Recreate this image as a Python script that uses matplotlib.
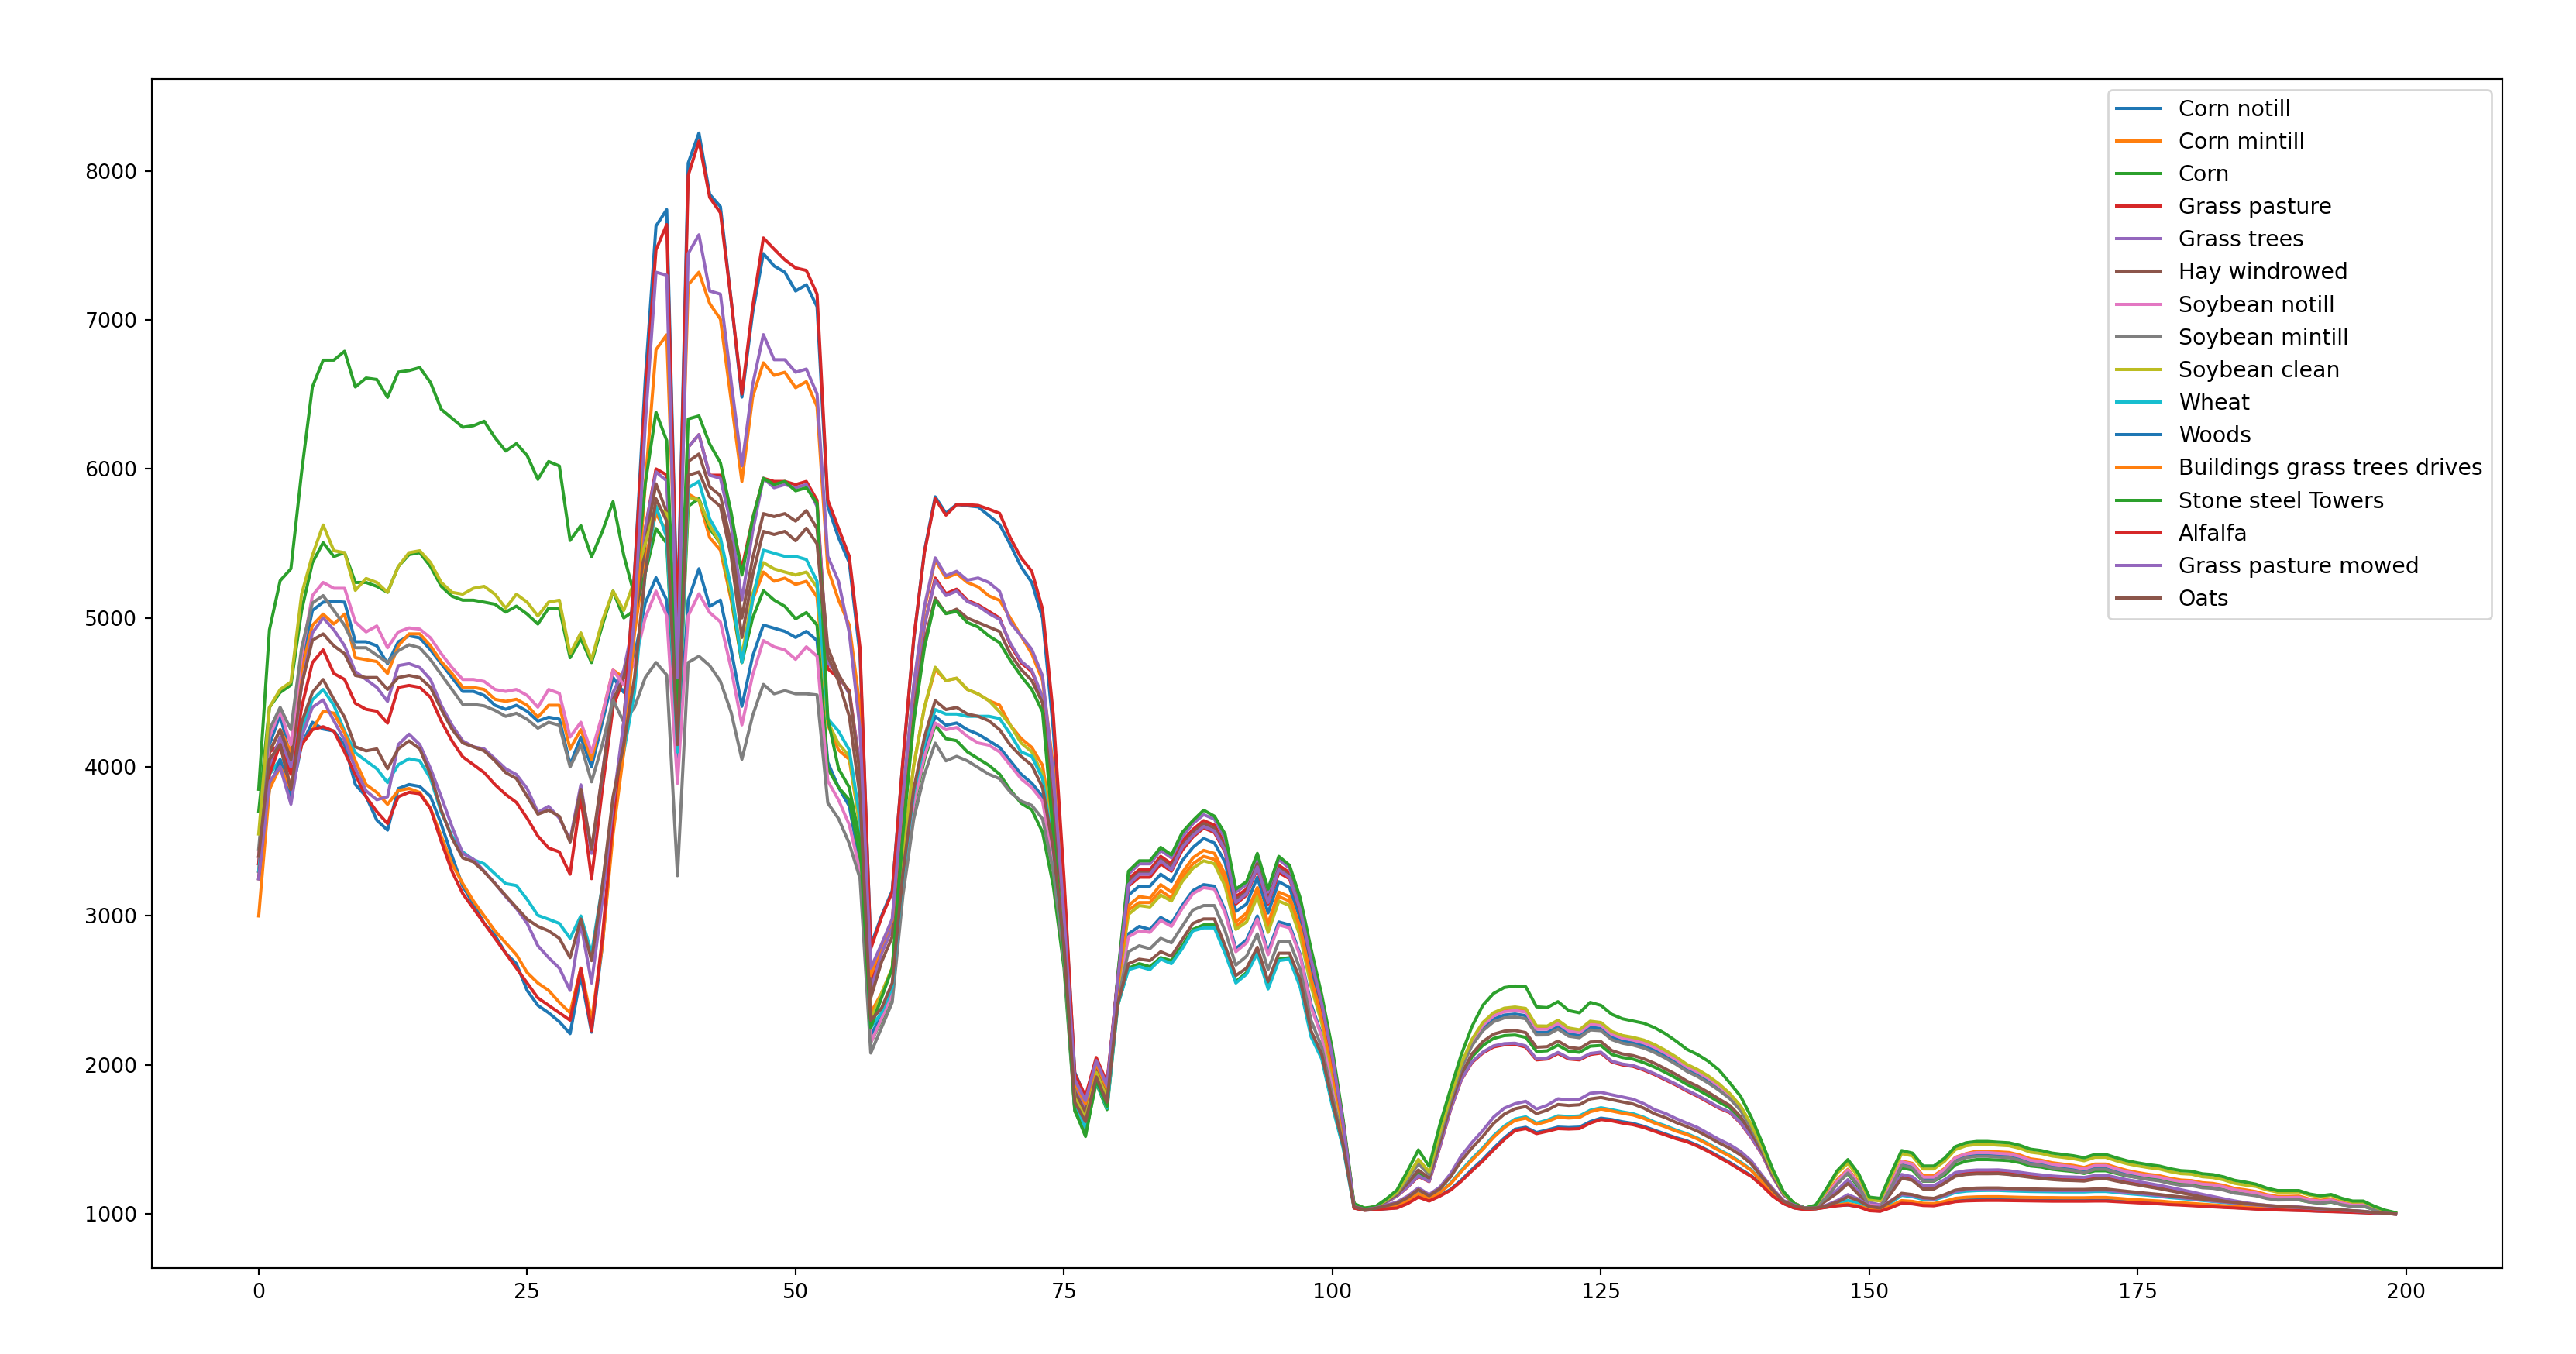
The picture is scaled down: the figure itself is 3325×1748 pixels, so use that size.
import matplotlib
matplotlib.use("Agg")
import matplotlib.pyplot as plt

bands = list(range(200))

labels = ["Corn notill", "Corn mintill", "Corn", "Grass pasture", "Grass trees",
          "Hay windrowed", "Soybean notill", "Soybean mintill", "Soybean clean",
          "Wheat", "Woods", "Buildings grass trees drives", "Stone steel Towers",
          "Alfalfa", "Grass pasture mowed", "Oats"]

corn_notill = [
    3350, 4150, 4350, 4050, 4700, 5050, 5106, 5111, 5106, 4840,
    4840, 4813, 4693, 4840, 4880, 4866, 4786, 4693, 4600, 4507,
    4507, 4480, 4414, 4387, 4414, 4374, 4308, 4334, 4321, 4015,
    4200, 4000, 4300, 4600, 4500, 4750, 5100, 5270, 5120, 4000,
    5120, 5330, 5078, 5120, 4785, 4407, 4743, 4952, 4931, 4910,
    4869, 4910, 4848, 4031, 3863, 3737, 3350, 2200, 2330, 2500,
    3240, 3780, 4120, 4340, 4280, 4295, 4250, 4220, 4176, 4131,
    4041, 3951, 3891, 3801, 3400, 2750, 1740, 1600, 1910, 1740,
    2470, 2880, 2930, 2910, 2990, 2950, 3070, 3170, 3210, 3200,
    3040, 2780, 2840, 3000, 2760, 2960, 2940, 2740, 2410, 2200,
    1860, 1510, 1065, 1037, 1047, 1090, 1141, 1237, 1345, 1271,
    1528, 1773, 1988, 2143, 2246, 2308, 2335, 2342, 2331, 2219,
    2219, 2258, 2209, 2198, 2252, 2246, 2186, 2161, 2149, 2129,
    2099, 2061, 2018, 1971, 1936, 1893, 1843, 1784, 1704, 1584,
    1442, 1276, 1140, 1070, 1040, 1050, 1115, 1210, 1285, 1200,
    1055, 1050, 1185, 1336, 1320, 1232, 1232, 1284, 1362, 1388,
    1397, 1397, 1392, 1388, 1371, 1345, 1336, 1320, 1310, 1301,
    1287, 1310, 1310, 1287, 1267, 1253, 1241, 1232, 1215, 1203,
    1199, 1185, 1180, 1168, 1148, 1140, 1128, 1110, 1100, 1100,
    1102, 1085, 1078, 1086, 1066, 1054, 1057, 1032, 1013, 1002]

corn_mintill = [
    3300, 4100, 4250, 4100, 4650, 4950, 5026, 4959, 5026, 4733,
    4720, 4707, 4627, 4813, 4893, 4893, 4813, 4707, 4627, 4534,
    4534, 4520, 4454, 4440, 4454, 4414, 4334, 4414, 4414, 4121,
    4250, 4050, 4350, 4650, 4600, 4900, 5400, 5700, 5580, 4300,
    5832, 5790, 5539, 5455, 5120, 4701, 5120, 5308, 5246, 5267,
    5225, 5246, 5141, 4282, 4114, 4051, 3600, 2350, 2480, 2650,
    3410, 4010, 4400, 4654, 4580, 4595, 4520, 4490, 4445, 4415,
    4280, 4191, 4131, 4011, 3550, 2850, 1780, 1640, 1950, 1770,
    2520, 3040, 3090, 3090, 3170, 3120, 3260, 3350, 3400, 3380,
    3240, 2930, 2990, 3160, 2920, 3130, 3100, 2890, 2550, 2300,
    1950, 1560, 1065, 1037, 1047, 1092, 1145, 1248, 1362, 1281,
    1543, 1787, 2005, 2168, 2278, 2344, 2374, 2381, 2371, 2255,
    2254, 2293, 2242, 2230, 2287, 2278, 2218, 2192, 2179, 2161,
    2131, 2092, 2048, 1998, 1963, 1920, 1868, 1803, 1720, 1596,
    1449, 1281, 1142, 1070, 1040, 1052, 1130, 1230, 1300, 1215,
    1070, 1062, 1205, 1355, 1340, 1257, 1257, 1305, 1380, 1405,
    1422, 1422, 1417, 1413, 1396, 1370, 1361, 1344, 1335, 1326,
    1312, 1335, 1335, 1312, 1292, 1278, 1266, 1257, 1240, 1228,
    1224, 1210, 1205, 1192, 1172, 1162, 1150, 1130, 1118, 1118,
    1120, 1100, 1092, 1100, 1078, 1064, 1066, 1038, 1017, 1004]

corn = [
    3700, 4400, 4500, 4550, 5050, 5370, 5505, 5412, 5438, 5238,
    5238, 5212, 5172, 5345, 5425, 5438, 5345, 5212, 5146, 5119,
    5119, 5106, 5092, 5039, 5079, 5026, 4959, 5066, 5066, 4733,
    4860, 4700, 4950, 5180, 5000, 5050, 5300, 5600, 5500, 4100,
    5750, 5800, 5600, 5500, 5150, 4700, 5000, 5183, 5120, 5078,
    4994, 5036, 4952, 3989, 3863, 3779, 3400, 2150, 2300, 2470,
    3200, 3730, 4050, 4280, 4190, 4176, 4101, 4056, 4011, 3951,
    3846, 3757, 3712, 3562, 3200, 2650, 1690, 1540, 1880, 1700,
    2400, 2650, 2680, 2660, 2720, 2700, 2800, 2910, 2940, 2940,
    2760, 2560, 2620, 2760, 2530, 2710, 2720, 2540, 2200, 2050,
    1730, 1450, 1065, 1037, 1047, 1083, 1126, 1198, 1280, 1233,
    1474, 1722, 1927, 2056, 2131, 2178, 2197, 2201, 2185, 2091,
    2095, 2133, 2092, 2085, 2126, 2131, 2071, 2050, 2039, 2015,
    1985, 1950, 1912, 1870, 1835, 1794, 1751, 1712, 1639, 1534,
    1413, 1258, 1133, 1070, 1040, 1050, 1120, 1210, 1270, 1180,
    1050, 1045, 1170, 1310, 1295, 1220, 1220, 1260, 1330, 1355,
    1365, 1365, 1362, 1358, 1345, 1322, 1315, 1300, 1292, 1285,
    1272, 1290, 1290, 1272, 1255, 1245, 1235, 1225, 1210, 1200,
    1195, 1182, 1177, 1165, 1147, 1138, 1127, 1108, 1095, 1095,
    1095, 1080, 1072, 1080, 1062, 1052, 1052, 1030, 1015, 1005]

grass_pasture = [
    3350, 4100, 4150, 3950, 4400, 4700, 4786, 4627, 4587, 4427,
    4387, 4374, 4294, 4534, 4547, 4534, 4467, 4308, 4175, 4068,
    4015, 3962, 3882, 3816, 3762, 3656, 3536, 3456, 3430, 3280,
    3800, 3250, 3850, 4400, 4600, 5000, 5600, 6000, 5960, 4300,
    6146, 6230, 5958, 5958, 5665, 5330, 5665, 5937, 5916, 5916,
    5895, 5916, 5790, 4659, 4596, 4512, 4000, 2550, 2750, 2920,
    3740, 4450, 4950, 5268, 5163, 5193, 5118, 5088, 5044, 4999,
    4819, 4699, 4640, 4460, 3750, 2950, 1850, 1700, 1990, 1830,
    2580, 3250, 3310, 3310, 3400, 3350, 3500, 3580, 3640, 3610,
    3480, 3130, 3180, 3370, 3120, 3340, 3290, 3070, 2740, 2430,
    2070, 1610, 1060, 1035, 1045, 1080, 1120, 1180, 1252, 1217,
    1450, 1700, 1900, 2017, 2080, 2121, 2135, 2138, 2120, 2034,
    2040, 2077, 2040, 2034, 2070, 2080, 2020, 2000, 1990, 1965,
    1935, 1900, 1865, 1825, 1790, 1750, 1710, 1680, 1610, 1512,
    1400, 1250, 1130, 1070, 1040, 1045, 1095, 1150, 1215, 1140,
    1068, 1050, 1148, 1250, 1236, 1177, 1177, 1216, 1263, 1275,
    1280, 1280, 1281, 1275, 1265, 1256, 1248, 1241, 1236, 1234,
    1231, 1244, 1247, 1231, 1217, 1205, 1192, 1180, 1166, 1151,
    1137, 1122, 1108, 1094, 1081, 1070, 1061, 1054, 1049, 1046,
    1043, 1038, 1033, 1031, 1026, 1020, 1016, 1009, 1004, 1000]

grass_trees = [
    3300, 4000, 4200, 4000, 4550, 4900, 5000, 4920, 4813, 4640,
    4587, 4534, 4440, 4680, 4693, 4667, 4587, 4414, 4281, 4175,
    4135, 4121, 4055, 3988, 3949, 3855, 3696, 3736, 3656, 3510,
    3880, 3420, 3950, 4500, 4650, 5000, 5600, 5980, 5920, 4250,
    6146, 6230, 5958, 5937, 5623, 5120, 5581, 5937, 5874, 5895,
    5874, 5895, 5748, 4701, 4617, 4491, 4000, 2500, 2750, 2920,
    3740, 4450, 4960, 5250, 5150, 5180, 5110, 5080, 5030, 4990,
    4830, 4710, 4650, 4470, 3800, 2950, 1850, 1710, 2000, 1840,
    2590, 3280, 3350, 3350, 3440, 3390, 3530, 3620, 3680, 3650,
    3520, 3160, 3210, 3400, 3160, 3380, 3320, 3100, 2770, 2450,
    2080, 1620, 1060, 1035, 1045, 1080, 1121, 1182, 1256, 1219,
    1453, 1703, 1903, 2022, 2086, 2128, 2143, 2146, 2128, 2041,
    2047, 2084, 2047, 2040, 2077, 2086, 2026, 2006, 1996, 1971,
    1941, 1906, 1871, 1831, 1796, 1756, 1715, 1684, 1614, 1515,
    1402, 1251, 1130, 1070, 1040, 1045, 1100, 1160, 1230, 1150,
    1079, 1060, 1160, 1265, 1250, 1190, 1190, 1230, 1278, 1290,
    1295, 1295, 1296, 1290, 1280, 1270, 1262, 1255, 1250, 1248,
    1245, 1258, 1261, 1245, 1230, 1218, 1205, 1192, 1178, 1163,
    1148, 1132, 1117, 1102, 1088, 1076, 1066, 1058, 1053, 1050,
    1047, 1041, 1036, 1033, 1028, 1022, 1018, 1010, 1005, 1000]

hay_windrowed = [
    3400, 4100, 4250, 4050, 4550, 4850, 4893, 4813, 4760, 4614,
    4600, 4600, 4520, 4600, 4614, 4600, 4534, 4387, 4254, 4161,
    4135, 4108, 4041, 3962, 3922, 3802, 3683, 3710, 3669, 3496,
    3850, 3450, 3950, 4450, 4600, 4950, 5500, 5900, 5710, 4200,
    6050, 6100, 5880, 5820, 5500, 5000, 5400, 5700, 5680, 5700,
    5650, 5720, 5600, 4800, 4620, 4500, 3950, 2450, 2690, 2860,
    3670, 4360, 4840, 5133, 5029, 5059, 4999, 4969, 4939, 4909,
    4759, 4654, 4580, 4430, 3700, 2900, 1820, 1680, 1980, 1820,
    2580, 3230, 3290, 3290, 3380, 3330, 3470, 3560, 3620, 3590,
    3460, 3110, 3160, 3350, 3100, 3320, 3270, 3050, 2720, 2420,
    2050, 1610, 1062, 1036, 1046, 1085, 1130, 1206, 1295, 1242,
    1486, 1734, 1941, 2075, 2157, 2207, 2227, 2232, 2217, 2119,
    2123, 2161, 2118, 2110, 2154, 2157, 2097, 2074, 2063, 2041,
    2011, 1974, 1936, 1892, 1857, 1816, 1771, 1728, 1653, 1545,
    1419, 1262, 1135, 1070, 1040, 1045, 1090, 1140, 1205, 1130,
    1060, 1045, 1138, 1240, 1226, 1167, 1167, 1206, 1253, 1265,
    1270, 1270, 1271, 1265, 1255, 1246, 1238, 1231, 1226, 1224,
    1221, 1234, 1237, 1221, 1207, 1195, 1182, 1170, 1156, 1142,
    1128, 1114, 1100, 1087, 1075, 1065, 1057, 1051, 1046, 1044,
    1041, 1036, 1032, 1030, 1025, 1020, 1015, 1009, 1004, 1000]

soybean_notill = [
    3400, 4200, 4380, 4150, 4750, 5150, 5238, 5199, 5199, 4972,
    4906, 4946, 4800, 4906, 4933, 4925, 4866, 4760, 4667, 4587,
    4587, 4574, 4520, 4507, 4520, 4480, 4401, 4520, 4494, 4201,
    4300, 4100, 4350, 4650, 4550, 4700, 5000, 5180, 5015, 3890,
    5015, 5162, 5036, 4973, 4659, 4282, 4617, 4848, 4806, 4785,
    4722, 4806, 4743, 3905, 3779, 3612, 3300, 2150, 2310, 2480,
    3210, 3750, 4070, 4295, 4250, 4265, 4205, 4161, 4146, 4101,
    4011, 3921, 3861, 3771, 3350, 2720, 1730, 1600, 1900, 1730,
    2470, 2860, 2900, 2890, 2970, 2930, 3050, 3150, 3190, 3180,
    3020, 2760, 2820, 2980, 2740, 2940, 2920, 2730, 2390, 2190,
    1850, 1510, 1065, 1037, 1047, 1092, 1143, 1244, 1355, 1277,
    1537, 1781, 1999, 2158, 2266, 2329, 2358, 2365, 2355, 2240,
    2240, 2279, 2229, 2217, 2273, 2266, 2206, 2180, 2167, 2148,
    2118, 2080, 2036, 1987, 1952, 1910, 1858, 1796, 1714, 1592,
    1446, 1279, 1142, 1070, 1040, 1050, 1120, 1220, 1295, 1205,
    1060, 1055, 1195, 1350, 1334, 1247, 1247, 1299, 1377, 1403,
    1412, 1412, 1407, 1403, 1386, 1360, 1351, 1334, 1325, 1316,
    1302, 1325, 1325, 1302, 1282, 1268, 1256, 1247, 1230, 1218,
    1214, 1200, 1195, 1182, 1162, 1152, 1140, 1122, 1110, 1110,
    1112, 1094, 1086, 1094, 1073, 1060, 1062, 1035, 1015, 1003]

soybean_mintill = [
    3450, 4250, 4400, 4250, 4800, 5100, 5150, 5050, 4950, 4800,
    4800, 4750, 4700, 4780, 4820, 4800, 4720, 4620, 4520, 4420,
    4420, 4410, 4380, 4340, 4360, 4320, 4260, 4300, 4280, 4000,
    4150, 3900, 4150, 4450, 4300, 4400, 4600, 4701, 4617, 3270,
    4701, 4743, 4680, 4575, 4366, 4051, 4345, 4554, 4491, 4512,
    4491, 4491, 4483, 3758, 3653, 3486, 3250, 2080, 2250, 2420,
    3140, 3650, 3950, 4160, 4041, 4071, 4041, 3996, 3951, 3921,
    3831, 3771, 3742, 3652, 3300, 2700, 1700, 1560, 1890, 1720,
    2440, 2760, 2800, 2780, 2850, 2820, 2930, 3040, 3070, 3070,
    2900, 2670, 2730, 2880, 2640, 2830, 2830, 2640, 2300, 2120,
    1790, 1480, 1064, 1037, 1047, 1089, 1139, 1232, 1336, 1265,
    1521, 1766, 1980, 2131, 2230, 2290, 2316, 2322, 2310, 2201,
    2202, 2241, 2193, 2183, 2235, 2230, 2170, 2146, 2133, 2113,
    2083, 2046, 2004, 1957, 1922, 1879, 1830, 1774, 1695, 1577,
    1438, 1274, 1139, 1070, 1040, 1050, 1110, 1200, 1275, 1190,
    1050, 1045, 1175, 1326, 1310, 1222, 1222, 1274, 1352, 1378,
    1387, 1387, 1382, 1378, 1361, 1335, 1326, 1310, 1300, 1291,
    1277, 1300, 1300, 1277, 1257, 1243, 1231, 1222, 1205, 1193,
    1190, 1176, 1172, 1160, 1140, 1132, 1122, 1104, 1094, 1095,
    1097, 1080, 1073, 1082, 1062, 1050, 1053, 1030, 1011, 1001]

soybean_clean = [
    3550, 4400, 4520, 4570, 5160, 5420, 5624, 5451, 5438, 5185,
    5265, 5238, 5172, 5345, 5438, 5451, 5372, 5238, 5172, 5159,
    5199, 5212, 5159, 5066, 5159, 5106, 5013, 5106, 5119, 4760,
    4900, 4720, 4980, 5180, 5050, 5250, 5500, 5750, 5700, 4200,
    5811, 5790, 5623, 5497, 5162, 4743, 5162, 5371, 5329, 5308,
    5288, 5308, 5204, 4303, 4156, 4072, 3600, 2300, 2480, 2650,
    3410, 4010, 4400, 4669, 4580, 4595, 4520, 4490, 4445, 4370,
    4280, 4161, 4101, 3951, 3500, 2800, 1780, 1640, 1950, 1780,
    2510, 3010, 3070, 3060, 3140, 3100, 3230, 3320, 3370, 3350,
    3200, 2910, 2960, 3130, 2890, 3100, 3070, 2860, 2530, 2280,
    1940, 1550, 1066, 1038, 1048, 1093, 1146, 1250, 1366, 1283,
    1546, 1790, 2009, 2173, 2285, 2351, 2381, 2389, 2379, 2262,
    2261, 2300, 2248, 2236, 2294, 2285, 2225, 2198, 2185, 2167,
    2137, 2098, 2054, 2004, 1969, 1926, 1873, 1808, 1725, 1600,
    1451, 1282, 1143, 1070, 1040, 1055, 1160, 1275, 1340, 1250,
    1095, 1088, 1250, 1405, 1390, 1302, 1302, 1354, 1432, 1458,
    1467, 1467, 1462, 1458, 1441, 1415, 1406, 1389, 1380, 1371,
    1357, 1380, 1380, 1357, 1337, 1323, 1311, 1302, 1284, 1271,
    1267, 1250, 1244, 1229, 1206, 1194, 1185, 1162, 1147, 1147,
    1148, 1126, 1115, 1124, 1098, 1081, 1082, 1049, 1023, 1007]

wheat = [
    3300, 3950, 4050, 3800, 4250, 4450, 4520, 4414, 4241, 4095,
    4041, 3988, 3895, 4015, 4055, 4041, 3922, 3696, 3536, 3430,
    3377, 3350, 3283, 3217, 3204, 3111, 3004, 2978, 2950, 2850,
    3000, 2750, 3200, 3750, 4100, 4500, 5300, 5750, 5540, 4100,
    5874, 5916, 5665, 5539, 5204, 4701, 5120, 5455, 5434, 5413,
    5413, 5392, 5246, 4324, 4240, 4114, 3650, 2250, 2350, 2520,
    3270, 3820, 4160, 4385, 4355, 4355, 4340, 4340, 4340, 4325,
    4220, 4101, 4071, 3921, 3450, 2780, 1720, 1580, 1890, 1710,
    2400, 2640, 2660, 2640, 2710, 2680, 2780, 2900, 2920, 2920,
    2750, 2550, 2610, 2750, 2510, 2700, 2710, 2520, 2190, 2040,
    1720, 1440, 1044, 1027, 1034, 1046, 1057, 1092, 1140, 1105,
    1146, 1207, 1293, 1372, 1444, 1525, 1590, 1637, 1652, 1610,
    1630, 1659, 1654, 1658, 1696, 1713, 1700, 1685, 1673, 1649,
    1617, 1592, 1563, 1539, 1509, 1472, 1432, 1394, 1349, 1297,
    1220, 1142, 1079, 1049, 1034, 1037, 1051, 1070, 1091, 1075,
    1042, 1035, 1075, 1125, 1116, 1098, 1094, 1117, 1144, 1153,
    1157, 1158, 1158, 1155, 1153, 1151, 1150, 1149, 1148, 1148,
    1148, 1151, 1151, 1144, 1137, 1131, 1125, 1118, 1110, 1104,
    1098, 1091, 1084, 1077, 1071, 1064, 1058, 1053, 1047, 1044,
    1041, 1036, 1032, 1029, 1025, 1020, 1015, 1009, 1005, 1000]

woods = [
    3250, 3850, 4050, 3800, 4150, 4300, 4254, 4241, 4148, 3882,
    3802, 3643, 3576, 3855, 3882, 3869, 3802, 3616, 3403, 3200,
    3080, 2950, 2870, 2750, 2680, 2500, 2400, 2350, 2290, 2210,
    2600, 2220, 2800, 3600, 4300, 5300, 6600, 7630, 7740, 4950,
    8053, 8254, 7843, 7760, 7131, 6482, 7047, 7445, 7362, 7320,
    7194, 7236, 7089, 5748, 5539, 5371, 4750, 2800, 3000, 3170,
    4040, 4850, 5450, 5813, 5702, 5762, 5753, 5745, 5687, 5627,
    5492, 5343, 5238, 4999, 4250, 3200, 1950, 1780, 2040, 1870,
    2550, 3140, 3200, 3200, 3280, 3230, 3370, 3460, 3520, 3490,
    3360, 3030, 3080, 3260, 3020, 3230, 3190, 2980, 2640, 2360,
    2010, 1580, 1040, 1025, 1030, 1036, 1042, 1073, 1116, 1089,
    1123, 1165, 1228, 1300, 1366, 1441, 1510, 1569, 1582, 1547,
    1564, 1583, 1580, 1583, 1620, 1643, 1634, 1619, 1608, 1588,
    1562, 1537, 1512, 1491, 1461, 1426, 1386, 1346, 1301, 1257,
    1194, 1123, 1071, 1041, 1031, 1035, 1046, 1057, 1060, 1050,
    1025, 1020, 1045, 1075, 1072, 1060, 1058, 1072, 1088, 1094,
    1096, 1096, 1096, 1095, 1094, 1093, 1092, 1091, 1091, 1091,
    1091, 1092, 1092, 1088, 1084, 1080, 1076, 1072, 1067, 1063,
    1059, 1055, 1051, 1047, 1043, 1039, 1035, 1032, 1029, 1027,
    1025, 1022, 1019, 1017, 1015, 1012, 1009, 1006, 1003, 1000]

buildings = [
    3000, 3850, 4000, 3850, 4150, 4250, 4374, 4361, 4228, 4041,
    3882, 3829, 3749, 3842, 3855, 3829, 3722, 3536, 3350, 3217,
    3100, 3000, 2900, 2820, 2740, 2620, 2550, 2500, 2420, 2350,
    2650, 2300, 2800, 3550, 4100, 4900, 5900, 6800, 6900, 4900,
    7236, 7320, 7110, 7005, 6461, 5916, 6482, 6712, 6628, 6649,
    6545, 6586, 6419, 5329, 5120, 4952, 4400, 2600, 2800, 2970,
    3810, 4540, 5060, 5388, 5268, 5298, 5238, 5208, 5148, 5118,
    4999, 4879, 4759, 4580, 4000, 3050, 1880, 1740, 2010, 1840,
    2530, 3070, 3130, 3120, 3210, 3160, 3290, 3390, 3440, 3420,
    3280, 2960, 3020, 3190, 2950, 3160, 3130, 2920, 2580, 2320,
    1970, 1570, 1043, 1026, 1033, 1044, 1055, 1089, 1137, 1103,
    1143, 1202, 1285, 1362, 1434, 1514, 1580, 1628, 1643, 1602,
    1621, 1649, 1644, 1648, 1686, 1704, 1691, 1676, 1664, 1641,
    1610, 1585, 1556, 1533, 1503, 1466, 1426, 1388, 1343, 1292,
    1216, 1140, 1078, 1048, 1033, 1036, 1048, 1060, 1070, 1055,
    1030, 1025, 1055, 1090, 1085, 1072, 1070, 1085, 1105, 1112,
    1115, 1116, 1116, 1114, 1112, 1111, 1110, 1110, 1109, 1109,
    1109, 1111, 1111, 1106, 1100, 1096, 1091, 1087, 1081, 1076,
    1071, 1066, 1061, 1056, 1051, 1046, 1042, 1038, 1034, 1032,
    1030, 1026, 1023, 1021, 1018, 1015, 1011, 1007, 1003, 1000]

stone_steel_towers = [
    3850, 4920, 5250, 5330, 5980, 6550, 6730, 6730, 6790, 6550,
    6610, 6600, 6480, 6650, 6660, 6680, 6580, 6400, 6340, 6280,
    6290, 6320, 6210, 6120, 6170, 6090, 5930, 6050, 6020, 5520,
    5620, 5410, 5580, 5780, 5420, 5150, 5900, 6380, 6190, 4400,
    6335, 6356, 6167, 6042, 5707, 5288, 5665, 5937, 5895, 5916,
    5853, 5874, 5769, 4324, 3989, 3863, 3500, 2250, 2450, 2650,
    3550, 4300, 4800, 5118, 5029, 5044, 4969, 4939, 4879, 4834,
    4714, 4610, 4520, 4370, 3550, 2750, 1700, 1520, 1900, 1720,
    2600, 3300, 3370, 3370, 3460, 3410, 3560, 3640, 3710, 3670,
    3550, 3180, 3230, 3420, 3180, 3400, 3340, 3120, 2780, 2470,
    2100, 1630, 1070, 1040, 1050, 1100, 1160, 1290, 1430, 1320,
    1600, 1840, 2070, 2260, 2400, 2480, 2520, 2530, 2525, 2390,
    2385, 2425, 2365, 2350, 2420, 2400, 2340, 2310, 2295, 2280,
    2250, 2210, 2160, 2105, 2070, 2025, 1965, 1880, 1790, 1650,
    1480, 1300, 1150, 1070, 1040, 1060, 1170, 1290, 1365, 1270,
    1113, 1105, 1270, 1426, 1409, 1322, 1322, 1374, 1452, 1478,
    1487, 1487, 1482, 1478, 1461, 1435, 1426, 1409, 1400, 1391,
    1377, 1400, 1400, 1377, 1357, 1343, 1331, 1322, 1304, 1291,
    1287, 1270, 1264, 1249, 1226, 1214, 1200, 1174, 1157, 1157,
    1157, 1134, 1122, 1131, 1105, 1087, 1087, 1053, 1026, 1009]

alfalfa = [
    3250, 3950, 4150, 3850, 4150, 4250, 4270, 4240, 4100, 3950,
    3800, 3700, 3620, 3800, 3830, 3820, 3720, 3500, 3300, 3150,
    3050, 2950, 2850, 2750, 2650, 2550, 2450, 2400, 2350, 2300,
    2650, 2230, 2850, 3650, 4300, 5300, 6500, 7470, 7640, 4900,
    7969, 8200, 7822, 7718, 7131, 6503, 7089, 7550, 7475, 7403,
    7349, 7332, 7173, 5790, 5602, 5413, 4800, 2780, 2990, 3160,
    4050, 4860, 5440, 5800, 5690, 5760, 5760, 5755, 5730, 5702,
    5537, 5403, 5313, 5059, 4350, 3250, 1940, 1790, 2050, 1880,
    2570, 3200, 3260, 3260, 3350, 3300, 3440, 3530, 3590, 3560,
    3430, 3080, 3140, 3320, 3080, 3290, 3250, 3030, 2700, 2400,
    2040, 1600, 1040, 1025, 1030, 1035, 1040, 1070, 1113, 1087,
    1120, 1160, 1220, 1290, 1356, 1430, 1500, 1560, 1573, 1539,
    1555, 1573, 1570, 1573, 1610, 1634, 1625, 1610, 1599, 1580,
    1555, 1530, 1505, 1485, 1455, 1420, 1380, 1340, 1295, 1252,
    1190, 1120, 1070, 1040, 1030, 1035, 1045, 1055, 1061, 1048,
    1022, 1018, 1042, 1072, 1068, 1057, 1055, 1068, 1083, 1088,
    1090, 1091, 1091, 1090, 1089, 1088, 1087, 1086, 1086, 1086,
    1086, 1087, 1087, 1083, 1079, 1075, 1072, 1068, 1063, 1060,
    1056, 1052, 1048, 1044, 1041, 1037, 1033, 1030, 1027, 1025,
    1023, 1021, 1018, 1016, 1014, 1011, 1009, 1005, 1003, 1000]

grass_pasture_mowed = [
    3250, 3900, 4000, 3750, 4200, 4400, 4450, 4310, 4180, 3990,
    3840, 3780, 3800, 4150, 4220, 4150, 3990, 3800, 3600, 3420,
    3380, 3300, 3220, 3130, 3050, 2950, 2800, 2720, 2650, 2500,
    2950, 2550, 3100, 3750, 4300, 5000, 6300, 7320, 7300, 4600,
    7445, 7571, 7194, 7173, 6586, 6021, 6565, 6901, 6733, 6733,
    6649, 6670, 6503, 5413, 5246, 4900, 4250, 2650, 2810, 2980,
    3810, 4550, 5080, 5403, 5283, 5313, 5253, 5268, 5238, 5178,
    4969, 4879, 4789, 4610, 3950, 3000, 1900, 1760, 2030, 1860,
    2570, 3210, 3280, 3280, 3370, 3310, 3460, 3540, 3600, 3570,
    3440, 3090, 3150, 3330, 3090, 3310, 3260, 3040, 2710, 2410,
    2050, 1600, 1050, 1030, 1040, 1060, 1080, 1120, 1175, 1130,
    1180, 1270, 1390, 1480, 1560, 1650, 1710, 1740, 1756, 1704,
    1730, 1773, 1765, 1770, 1810, 1817, 1800, 1785, 1770, 1740,
    1700, 1675, 1640, 1610, 1580, 1540, 1500, 1465, 1420, 1356,
    1260, 1170, 1090, 1060, 1040, 1040, 1060, 1090, 1130, 1100,
    1055, 1045, 1090, 1130, 1124, 1105, 1100, 1123, 1152, 1162,
    1166, 1167, 1167, 1164, 1162, 1160, 1159, 1158, 1157, 1157,
    1157, 1160, 1160, 1152, 1144, 1138, 1131, 1124, 1116, 1109,
    1103, 1095, 1087, 1081, 1074, 1067, 1061, 1055, 1050, 1046,
    1043, 1038, 1033, 1030, 1026, 1021, 1016, 1009, 1005, 1000]

oats = [
    3400, 4050, 4150, 3850, 4300, 4500, 4587, 4454, 4334, 4135,
    4108, 4121, 3988, 4121, 4175, 4121, 3949, 3710, 3523, 3390,
    3363, 3297, 3217, 3137, 3057, 2978, 2930, 2900, 2850, 2720,
    2980, 2700, 3200, 3800, 4150, 4600, 5300, 5800, 5650, 4150,
    5958, 5979, 5811, 5748, 5413, 4869, 5288, 5581, 5560, 5581,
    5518, 5602, 5497, 4743, 4575, 4340, 3800, 2300, 2380, 2550,
    3290, 3850, 4200, 4445, 4385, 4400, 4355, 4340, 4310, 4250,
    4146, 4071, 4011, 3861, 3450, 2800, 1750, 1620, 1920, 1750,
    2410, 2680, 2710, 2700, 2760, 2730, 2840, 2950, 2980, 2980,
    2800, 2600, 2650, 2790, 2560, 2750, 2750, 2570, 2230, 2070,
    1750, 1460, 1048, 1029, 1038, 1055, 1072, 1110, 1163, 1122,
    1169, 1249, 1358, 1444, 1521, 1608, 1670, 1706, 1721, 1673,
    1697, 1735, 1728, 1733, 1772, 1782, 1767, 1752, 1738, 1710,
    1672, 1647, 1614, 1586, 1556, 1517, 1477, 1441, 1396, 1336,
    1247, 1160, 1086, 1056, 1038, 1040, 1055, 1080, 1115, 1090,
    1050, 1040, 1085, 1139, 1130, 1110, 1105, 1130, 1160, 1170,
    1174, 1175, 1175, 1172, 1170, 1168, 1167, 1166, 1165, 1165,
    1165, 1168, 1168, 1160, 1152, 1145, 1138, 1131, 1122, 1115,
    1108, 1100, 1092, 1085, 1078, 1070, 1064, 1058, 1052, 1048,
    1045, 1040, 1035, 1032, 1027, 1022, 1017, 1010, 1005, 1000]

series = [corn_notill, corn_mintill, corn, grass_pasture, grass_trees,
          hay_windrowed, soybean_notill, soybean_mintill, soybean_clean,
          wheat, woods, buildings, stone_steel_towers, alfalfa,
          grass_pasture_mowed, oats]

DPI = 192.5
fig = plt.figure(figsize=(3325 / DPI, 1748 / DPI), dpi=DPI)
ax = fig.add_axes([196 / 3325, 1 - 1637 / 1748, (3230 - 196) / 3325, (1637 - 102) / 1748])
for lab, vals in zip(labels, series):
    ax.plot(bands, vals, label=lab, linewidth=1.5)
ax.legend(loc="upper right", fontsize=10.6)
fig.savefig("out.png", dpi=DPI)
